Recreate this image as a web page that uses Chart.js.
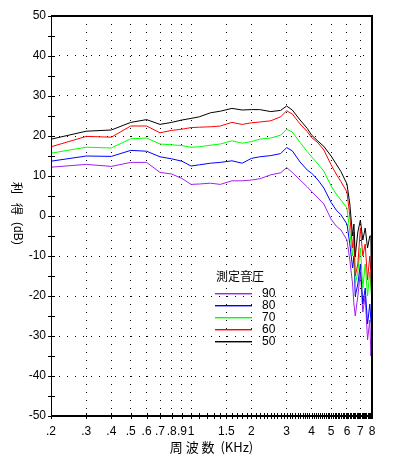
<!DOCTYPE html>
<html>
<head>
<meta charset="utf-8">
<script src="https://cdn.jsdelivr.net/npm/chart.js@4.4.0/dist/chart.umd.min.js"></script>
<style>
  html, body { margin: 0; padding: 0; background: #fff; }
  #wrap { width: 399px; height: 462px; }
</style>
</head>
<body>
<div id="wrap"><canvas id="gainChart" width="399" height="462"></canvas></div>
<script>
// frequency (kHz) and gain (dB), one array per input level
const freqs = [0.2, 0.3, 0.4, 0.5, 0.6, 0.7, 0.8, 0.9, 1.0, 1.1, 1.25, 1.4, 1.6, 1.8,
  2.0, 2.2, 2.5, 2.8, 3.0, 3.2, 3.5, 3.8, 4.0, 4.3, 4.6, 5.0, 5.3, 5.6,
  6.0, 6.2, 6.4, 6.5, 6.6, 6.8, 7.0, 7.2, 7.4, 7.6, 7.8, 7.9, 8.0];
const gain50 = [19.2, 21.2, 21.5, 23.4, 24.1, 22.9, 23.4, 24.0, 24.4, 24.8, 25.8, 26.2, 26.9, 26.5,
  26.6, 26.6, 26.1, 26.4, 27.5, 26.5, 24.0, 21.9, 20.2, 18.7, 17.4, 15.0, 13.0, 11.1,
  8.0, 3, -5, -2, -10, -4, -1, -6, -3, -8, -5, -5, -31];
const gain60 = [17.3, 19.9, 19.7, 22.5, 22.5, 20.8, 21.4, 21.7, 22.1, 22.2, 22.3, 22.5, 23.4, 22.9,
  23.3, 23.5, 23.8, 24.8, 26.3, 25.5, 23.0, 21.1, 19.6, 18.3, 16.5, 12.8, 10.5, 8.6,
  6.0, 0, -8, -4, -15, -12, -3, -10, -7, -16, -10, -14, -23];
const gain70 = [15.7, 17.2, 17.0, 19.3, 19.5, 18.0, 17.8, 17.6, 17.2, 17.3, 17.7, 18.0, 18.8, 18.2,
  18.6, 19.2, 19.5, 20.2, 21.7, 21.0, 18.4, 16.1, 14.8, 13.0, 11.2, 7.5, 5.5, 4.0,
  2.0, -4, -10, -6, -17, -14, -8, -18, -12, -20, -14, -18, -22];
const gain80 = [13.7, 15.0, 14.9, 16.4, 16.2, 14.8, 14.3, 13.7, 12.5, 12.8, 13.2, 13.4, 13.8, 13.2,
  14.4, 14.8, 15.1, 15.6, 17.1, 16.3, 13.5, 11.5, 10.7, 9.0, 7.0, 3.4, 1.5, 0.3,
  -2.0, -7, -13, -10, -20, -17, -12, -22, -18, -27, -22, -26, -28];
const gain90 = [12.2, 12.9, 12.4, 13.4, 13.4, 10.9, 10.5, 9.4, 7.9, 8.0, 8.2, 7.9, 8.8, 8.8,
  9.0, 9.3, 10.3, 10.8, 12.1, 10.9, 9.0, 7.3, 6.1, 4.5, 3.0, -0.8, -2.5, -3.5,
  -6.0, -11, -17, -22, -25, -20, -14, -24, -20, -31, -26, -35, -32];

const levelLabels = ['50', '60', '70', '80', '90'];
const levelColors = ['#000000', '#ff0000', '#00ff00', '#0000ff', '#a020f0'];
const levelGains = [gain50, gain60, gain70, gain80, gain90];

const xTickValues = [0.2, 0.3, 0.4, 0.5, 0.6, 0.7, 0.8, 0.9, 1, 1.5, 2, 3, 4, 5, 6, 7, 8];
const xTickLabels = ['.2', '.3', '.4', '.5', '.6', '.7', '.8', '.9', '1', '1.5', '2', '3', '4', '5', '6', '7', '8'];

const legendTitle = '測定音圧';
const xTitle = '周 波 数  (KHz)';

const NUM_FONT = "'Liberation Sans', Arial, sans-serif";
const CJK_FONT = "'Noto Sans CJK JP', 'Noto Sans', sans-serif";

// small tick marks every 0.1 kHz
const minorTicks = [];
for (let i = 2; i <= 80; i++) minorTicks.push(i / 10);

const near = (a, b) => Math.abs(a - b) < 1e-6;
const labelIndex = v => xTickValues.findIndex(t => near(t, v));

const axisPlugin = {
  id: 'axisDecor',
  afterDatasetsDraw(chart) {
    const { ctx, chartArea: a, scales } = chart;
    ctx.save();
    ctx.setLineDash([]);
    ctx.strokeStyle = '#000';
    // frame
    ctx.lineWidth = 2;
    ctx.beginPath();
    ctx.moveTo(a.left, a.top); ctx.lineTo(a.right, a.top); ctx.lineTo(a.right, a.bottom);
    ctx.lineTo(a.left, a.bottom);
    ctx.stroke();
    ctx.lineWidth = 1;
    ctx.beginPath();
    ctx.moveTo(a.left + 0.5, a.top); ctx.lineTo(a.left + 0.5, a.bottom);
    ctx.stroke();
    // tick marks
    ctx.beginPath();
    minorTicks.forEach(v => {
      const px = Math.round(scales.x.getPixelForValue(v)) + 0.5;
      ctx.moveTo(px, a.bottom - 3); ctx.lineTo(px, a.bottom + 3);
    });
    for (let v = -50; v <= 50; v += 5) {
      const py = Math.round(scales.y.getPixelForValue(v)) + 0.5;
      ctx.moveTo(a.left - 3, py); ctx.lineTo(a.left + 4, py);
    }
    ctx.stroke();

    // y title, rotated clockwise
    ctx.save();
    ctx.translate(17, (a.top + a.bottom) / 2 - 4);
    ctx.rotate(Math.PI / 2);
    ctx.fillStyle = '#000';
    ctx.textBaseline = 'middle';
    ctx.font = '12px ' + CJK_FONT;
    ctx.fillText('利', -30, 0);
    ctx.fillText('得', -9, 0);
    ctx.font = '12px ' + NUM_FONT;
    ctx.fillText('(dB)', 10, 0);
    ctx.restore();

    // legend
    const lx = Math.round(a.left + 164), ly = Math.round(a.top + 260);
    ctx.fillStyle = '#000';
    ctx.textBaseline = 'middle';
    ctx.font = '12px ' + CJK_FONT;
    ctx.fillText(legendTitle, lx + 1, ly);
    ctx.font = '12px ' + NUM_FONT;
    const order = levelLabels.map((_, i) => i).reverse();
    order.forEach((i, k) => {
      const y = Math.round(ly + 17 + k * 11.9);
      ctx.fillStyle = levelColors[i];
      ctx.fillRect(lx, y, 37, 1.4);
      ctx.fillStyle = '#000';
      ctx.fillText(levelLabels[i], lx + 47, y + 0.5);
    });
    ctx.restore();
  }
};

const ctx = document.getElementById('gainChart').getContext('2d');
const gainChart = new Chart(ctx, {
  type: 'line',
  data: {
    datasets: levelLabels.map((lab, i) => ({
      label: lab,
      data: freqs.map((f, j) => ({ x: f, y: levelGains[i][j] })),
      borderColor: levelColors[i],
      borderWidth: 1,
      pointRadius: 0,
      tension: 0,
      fill: false
    }))
  },
  options: {
    responsive: false,
    animation: false,
    layout: { padding: { top: 16, right: 27, left: 0, bottom: 0 } },
    plugins: { legend: { display: false }, tooltip: { enabled: false } },
    scales: {
      x: {
        type: 'logarithmic',
        min: 0.2,
        max: 8,
        afterBuildTicks: s => { s.ticks = minorTicks.map(v => ({ value: v })); },
        afterFit: s => { s.height = 46; },
        ticks: {
          autoSkip: false,
          maxRotation: 0,
          padding: 8,
          color: '#000',
          font: { family: NUM_FONT, size: 12 },
          callback: v => { const k = labelIndex(v); return k >= 0 ? xTickLabels[k] : ''; }
        },
        grid: {
          drawTicks: false,
          lineWidth: 1,
          color: c => {
            const v = c.tick && c.tick.value;
            if (v == null || near(v, 0.2) || near(v, 8)) return 'rgba(0,0,0,0)';
            return labelIndex(v) >= 0 ? '#000' : 'rgba(0,0,0,0)';
          }
        },
        border: { display: false, dash: [1, 7] },
        title: {
          display: true,
          text: xTitle,
          color: '#000',
          font: { family: CJK_FONT, size: 13 },
          padding: { top: 0, bottom: 7 }
        }
      },
      y: {
        min: -50,
        max: 50,
        afterFit: s => { s.width = 51; },
        ticks: {
          stepSize: 10,
          padding: 5,
          color: '#000',
          font: { family: NUM_FONT, size: 12 }
        },
        grid: {
          drawTicks: false,
          lineWidth: 1,
          color: c => (c.tick && Math.abs(c.tick.value) < 50) ? '#000' : 'rgba(0,0,0,0)'
        },
        border: { display: false, dash: [1, 7] }
      }
    }
  },
  plugins: [axisPlugin]
});
</script>
</body>
</html>
